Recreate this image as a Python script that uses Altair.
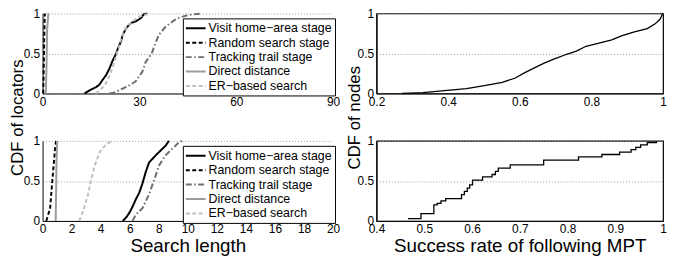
import altair as alt
import pandas as pd

FONT = "Liberation Sans"

SERIES = ["Visit home−area stage", "Random search stage", "Tracking trail stage",
          "Direct distance", "ER−based search"]
COLORS = ["#000000", "#000000", "#6e6e6e", "#9c9c9c", "#c0c0c0"]
DASHES = [[1, 0], [4, 2.5], [6, 2.5, 1.5, 2.5], [1, 0], [4, 2.5]]

# ---- top-left: search length (0..90)
tl_visit_x = [13.0, 14.6, 16.6, 17.6, 18.6, 19.7, 20.7, 21.7, 22.7, 23.4, 24.3, 24.8, 25.8, 27.3, 28.8, 30.4, 31.4, 32.5]
tl_visit_y = [0, 0.04, 0.08, 0.11, 0.17, 0.23, 0.31, 0.41, 0.49, 0.57, 0.65, 0.73, 0.81, 0.88, 0.9, 0.94, 0.99, 1.0]
tl_random_x = [0.2, 0.35, 0.5, 0.7]
tl_random_y = [0, 0.3, 0.7, 1.0]
tl_track_x = [20.7, 22.0, 23.8, 26.8, 28.8, 30.9, 31.9, 33.8, 34.8, 36.0, 38.0, 40.6, 42.5, 45.2, 49.2]
tl_track_y = [0, 0.01, 0.04, 0.10, 0.15, 0.27, 0.39, 0.5, 0.61, 0.73, 0.83, 0.91, 0.95, 0.98, 1.0]
tl_direct_x = [1.0, 1.2, 1.4, 1.8]
tl_direct_y = [0, 0.3, 0.8, 1.0]
tl_er_x = [16.5, 18.0, 19.5, 20.5, 21.5, 22.3, 23.0, 23.8, 24.5, 25.5, 27.0, 28.5, 30.0, 31.5, 33.5]
tl_er_y = [0, 0.05, 0.12, 0.2, 0.3, 0.4, 0.5, 0.6, 0.7, 0.8, 0.87, 0.92, 0.96, 0.98, 1.0]

# ---- bottom-left: search length (0..20)
bl_visit_x = [5.52, 5.74, 5.97, 6.2, 6.42, 6.65, 6.88, 7.1, 7.33, 7.79, 8.13, 8.47, 8.7]
bl_visit_y = [0, 0.04, 0.10, 0.18, 0.27, 0.35, 0.47, 0.61, 0.73, 0.82, 0.88, 0.94, 1.0]
bl_random_x = [0.25, 0.29, 0.52, 0.63, 0.74, 0.86, 0.93]
bl_random_y = [0, 0.02, 0.16, 0.41, 0.65, 0.9, 1.0]
bl_track_x = [6.2, 6.42, 6.88, 7.33, 7.56, 7.79, 8.01, 8.47, 8.92, 9.38, 9.6]
bl_track_y = [0, 0.08, 0.16, 0.33, 0.45, 0.57, 0.69, 0.82, 0.90, 0.98, 1.0]
bl_direct_x = [0.9, 0.93, 0.96, 1.0]
bl_direct_y = [0, 0.35, 0.75, 1.0]
bl_er_x = [2.52, 2.79, 3.13, 3.36, 3.59, 3.93, 4.38, 4.84]
bl_er_y = [0, 0.12, 0.33, 0.53, 0.69, 0.86, 0.96, 1.0]

# ---- top-right: CDF of nodes vs success rate (0.2..1)
tr_x = [0.271, 0.33, 0.397, 0.451, 0.505, 0.551, 0.586, 0.614, 0.641, 0.668, 0.695, 0.731,
        0.758, 0.785, 0.821, 0.857, 0.884, 0.92, 0.956, 0.978, 0.992, 0.999]
tr_y = [0, 0.01, 0.04, 0.06, 0.10, 0.14, 0.19, 0.26, 0.32, 0.38, 0.43, 0.49,
        0.53, 0.59, 0.63, 0.67, 0.72, 0.77, 0.81, 0.87, 0.93, 1.0]

# ---- bottom-right: success rate of following MPT (0.4..1), step CDF
br_x = [0.466, 0.493, 0.52, 0.527, 0.535, 0.545, 0.578, 0.584, 0.59, 0.595, 0.601, 0.622,
        0.642, 0.649, 0.655, 0.68, 0.75, 0.823, 0.872, 0.909, 0.933, 0.943, 0.953, 0.967, 0.986]
br_y = [0.03, 0.09, 0.2, 0.22, 0.25, 0.28, 0.33, 0.37, 0.41, 0.45, 0.51, 0.55,
        0.58, 0.62, 0.66, 0.70, 0.76, 0.80, 0.83, 0.86, 0.89, 0.92, 0.95, 0.98, 1.0]


def build(series_xy):
    rows = []
    for name, (xs, ys) in zip(SERIES, series_xy):
        for i, (x, y) in enumerate(zip(xs, ys)):
            rows.append({"series": name, "x": x, "y": y, "i": i})
    return pd.DataFrame(rows)


tl_df = build([(tl_visit_x, tl_visit_y), (tl_random_x, tl_random_y), (tl_track_x, tl_track_y),
               (tl_direct_x, tl_direct_y), (tl_er_x, tl_er_y)])
bl_df = build([(bl_visit_x, bl_visit_y), (bl_random_x, bl_random_y), (bl_track_x, bl_track_y),
               (bl_direct_x, bl_direct_y), (bl_er_x, bl_er_y)])
tr_df = pd.DataFrame({"x": tr_x, "y": tr_y, "i": list(range(len(tr_x)))})
br_df = pd.DataFrame({"x": br_x, "y": br_y, "i": list(range(len(br_x)))})

W_L, W_R, H = 294, 290, 81


def legend():
    return alt.Legend(title=None, orient="none", legendX=142, legendY=5, direction="vertical",
                      strokeColor="black", fillColor="white", padding=3, cornerRadius=0,
                      symbolType="M-1.667,0L1.667,0", symbolSize=144, symbolStrokeWidth=2,
                      symbolOffset=3, labelOffset=6,
                      labelFont=FONT, labelFontSize=12.5, labelColor="black",
                      rowPadding=0.6, labelLimit=300)


def yaxis(title=None, title_x=-16):
    kw = dict(values=[0, 0.5, 1], format="~r", grid=True, gridDash=[1, 2], gridColor="#999999",
              ticks=False, labelPadding=3, domainColor="black", labelFont=FONT, labelFontSize=12,
              labelColor="black", labelOverlap=False)
    if title:
        kw.update(title=title, titleY=105, titleX=title_x, titleFont=FONT, titleFontSize=17,
                  titleFontWeight="normal", titleColor="black", titleAngle=270)
    else:
        kw.update(title=None)
    return alt.Axis(**kw)


def xaxis(values, title=None):
    kw = dict(values=values, format="~r", grid=False, ticks=False, labelPadding=3, domainColor="black",
              labelFont=FONT, labelFontSize=12, labelColor="black", labelOverlap=False, labelFlush=False)
    if title:
        kw.update(title=title, titleFont=FONT, titleFontSize=19, titleFontWeight="normal",
                  titleColor="black", titlePadding=2)
    else:
        kw.update(title=None)
    return alt.Axis(**kw)


def left_panel(df, xmax, xvals, ytitle=None, xtitle=None):
    return alt.Chart(df).mark_line(strokeWidth=2).encode(
        x=alt.X("x:Q", scale=alt.Scale(domain=[0, xmax], nice=False, zero=False), axis=xaxis(xvals, xtitle)),
        y=alt.Y("y:Q", scale=alt.Scale(domain=[0, 1], nice=False), axis=yaxis(ytitle, -16)),
        color=alt.Color("series:N", scale=alt.Scale(domain=SERIES, range=COLORS), legend=legend()),
        strokeDash=alt.StrokeDash("series:N", scale=alt.Scale(domain=SERIES, range=DASHES), legend=legend()),
        order="i:Q",
    ).properties(width=W_L, height=H, view=alt.ViewBackground(stroke=None))


def right_panel(df, xmin, xvals, interp, ytitle=None, xtitle=None):
    return alt.Chart(df).mark_line(strokeWidth=1.3, color="black", interpolate=interp).encode(
        x=alt.X("x:Q", scale=alt.Scale(domain=[xmin, 1], nice=False, zero=False), axis=xaxis(xvals, xtitle)),
        y=alt.Y("y:Q", scale=alt.Scale(domain=[0, 1], nice=False), axis=yaxis(ytitle, -13)),
        order="i:Q",
    ).properties(width=W_R, height=H, view=alt.ViewBackground(stroke="black", strokeWidth=1.2))


tl = left_panel(tl_df, 90, [0, 30, 60, 90], ytitle="CDF of locators")
bl = left_panel(bl_df, 20, list(range(0, 21, 2)), xtitle="Search length")
tr = right_panel(tr_df, 0.2, [0.2, 0.4, 0.6, 0.8, 1.0], "linear", ytitle="CDF of nodes")
br = right_panel(br_df, 0.4, [0.4, 0.5, 0.6, 0.7, 0.8, 0.9, 1.0], "step-after",
                 xtitle="Success rate of following MPT")

chart = alt.concat(tl, tr, bl, br, columns=2, spacing={"row": 48, "column": 44}, bounds="flush").resolve_scale(
    color="independent", strokeDash="independent"
).properties(
    padding={"left": 0, "top": -3, "right": 0, "bottom": 0}
).configure_view(stroke=None).configure(background="white")

chart.save("out.html", embed_options={"renderer": "svg", "actions": False})
